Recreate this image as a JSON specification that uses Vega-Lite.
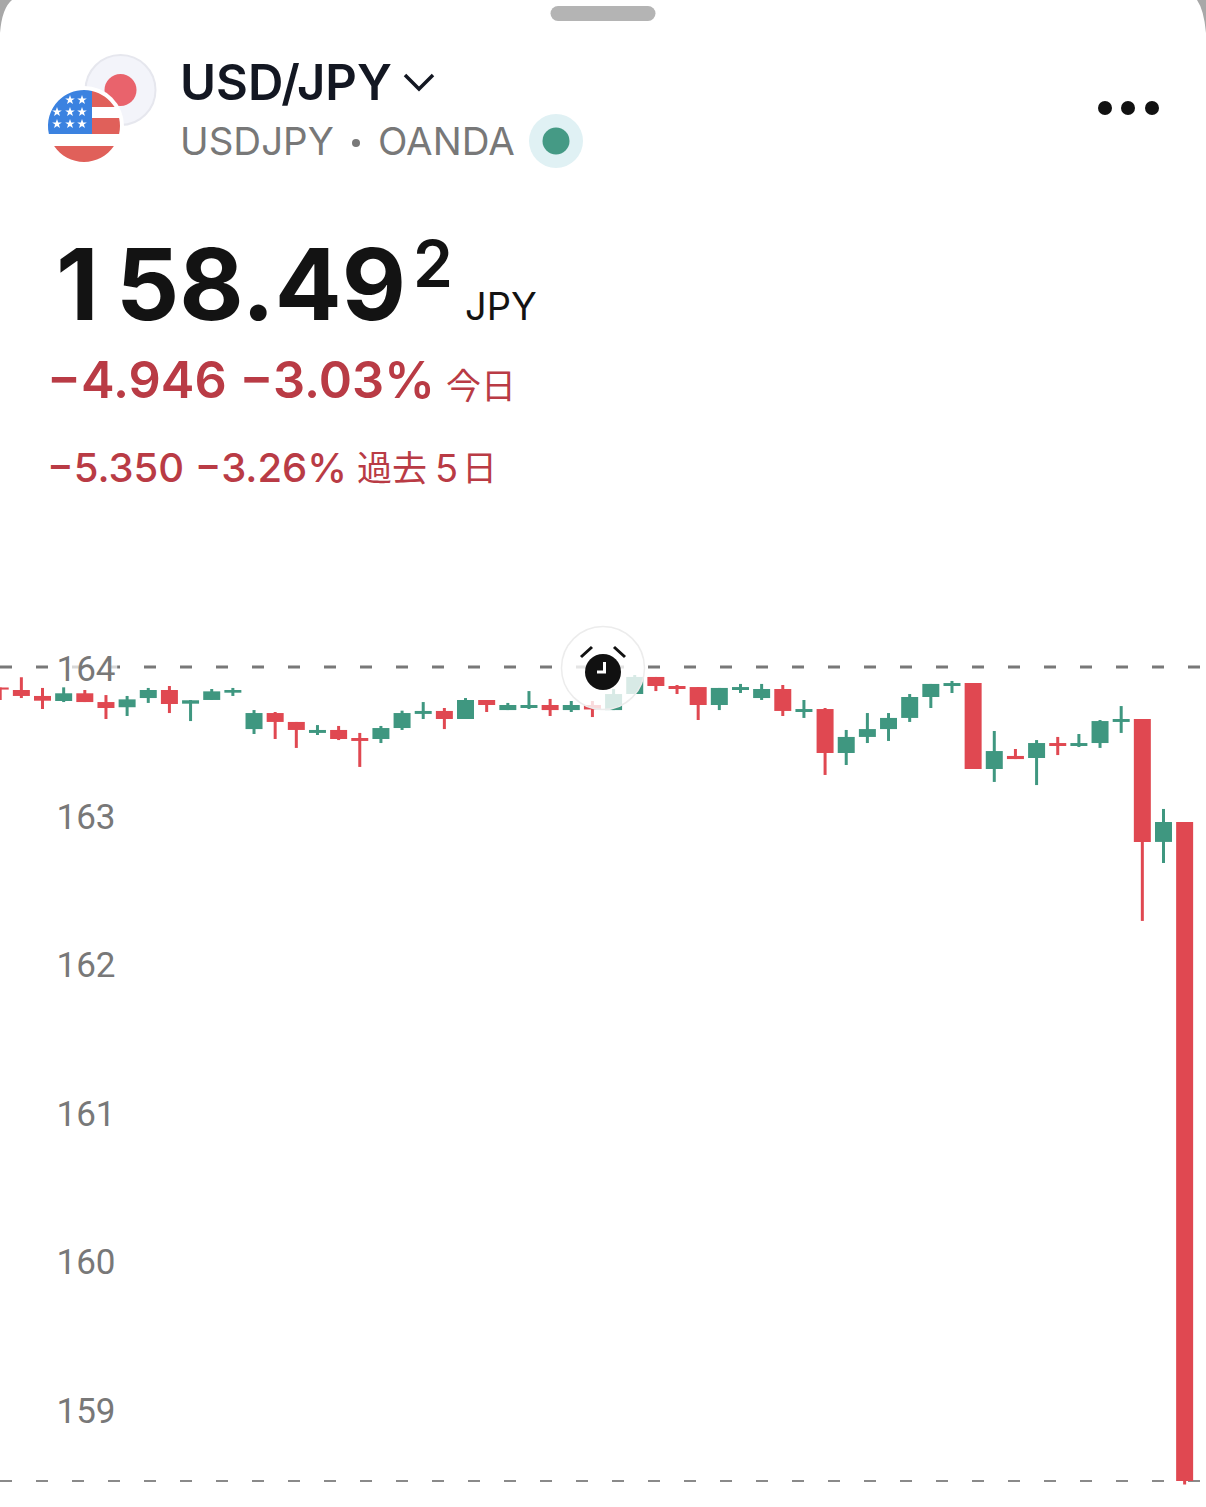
{"$schema":"https://vega.github.io/schema/vega-lite/v6.json","autosize":{"type":"fit","contains":"padding"},"width":1206,"height":1507,"padding":0,"background":"#ffffff","config":{"view":{"stroke":null},"axisY":{"orient":"left","domain":false,"ticks":false,"grid":false,"labelAlign":"left","labelPadding":-56,"labelFont":"Roboto","labelFontSize":35,"labelColor":"#787878","labelBaseline":"middle","labelOffset":2,"labelBound":false,"labelFlush":false}},
"datasets":{"candles":[
{"i":0,"open":163.862,"high":163.862,"low":163.778,"close":163.848,"dir":"down"},
{"i":1,"open":163.845,"high":163.931,"low":163.791,"close":163.805,"dir":"down"},
{"i":2,"open":163.805,"high":163.859,"low":163.717,"close":163.773,"dir":"down"},
{"i":3,"open":163.771,"high":163.863,"low":163.764,"close":163.823,"dir":"up"},
{"i":4,"open":163.823,"high":163.845,"low":163.764,"close":163.764,"dir":"down"},
{"i":5,"open":163.764,"high":163.811,"low":163.650,"close":163.724,"dir":"down"},
{"i":6,"open":163.729,"high":163.805,"low":163.670,"close":163.782,"dir":"up"},
{"i":7,"open":163.791,"high":163.859,"low":163.758,"close":163.845,"dir":"up"},
{"i":8,"open":163.845,"high":163.872,"low":163.690,"close":163.751,"dir":"down"},
{"i":9,"open":163.753,"high":163.778,"low":163.636,"close":163.776,"dir":"up"},
{"i":10,"open":163.778,"high":163.852,"low":163.778,"close":163.836,"dir":"up"},
{"i":11,"open":163.827,"high":163.859,"low":163.805,"close":163.845,"dir":"up"},
{"i":12,"open":163.582,"high":163.710,"low":163.549,"close":163.690,"dir":"up"},
{"i":13,"open":163.690,"high":163.697,"low":163.515,"close":163.630,"dir":"down"},
{"i":14,"open":163.630,"high":163.630,"low":163.455,"close":163.576,"dir":"down"},
{"i":15,"open":163.556,"high":163.609,"low":163.542,"close":163.576,"dir":"up"},
{"i":16,"open":163.576,"high":163.603,"low":163.508,"close":163.515,"dir":"down"},
{"i":17,"open":163.522,"high":163.556,"low":163.327,"close":163.502,"dir":"down"},
{"i":18,"open":163.515,"high":163.603,"low":163.488,"close":163.589,"dir":"up"},
{"i":19,"open":163.589,"high":163.706,"low":163.576,"close":163.690,"dir":"up"},
{"i":20,"open":163.684,"high":163.764,"low":163.650,"close":163.704,"dir":"up"},
{"i":21,"open":163.704,"high":163.724,"low":163.582,"close":163.650,"dir":"down"},
{"i":22,"open":163.650,"high":163.791,"low":163.650,"close":163.778,"dir":"up"},
{"i":23,"open":163.778,"high":163.778,"low":163.697,"close":163.744,"dir":"down"},
{"i":24,"open":163.710,"high":163.758,"low":163.710,"close":163.744,"dir":"up"},
{"i":25,"open":163.724,"high":163.838,"low":163.717,"close":163.744,"dir":"up"},
{"i":26,"open":163.744,"high":163.785,"low":163.670,"close":163.710,"dir":"down"},
{"i":27,"open":163.710,"high":163.771,"low":163.697,"close":163.744,"dir":"up"},
{"i":28,"open":163.744,"high":163.771,"low":163.663,"close":163.714,"dir":"down"},
{"i":29,"open":163.710,"high":163.852,"low":163.710,"close":163.818,"dir":"up"},
{"i":30,"open":163.818,"high":163.946,"low":163.818,"close":163.933,"dir":"up"},
{"i":31,"open":163.933,"high":163.933,"low":163.838,"close":163.872,"dir":"down"},
{"i":32,"open":163.872,"high":163.879,"low":163.818,"close":163.852,"dir":"down"},
{"i":33,"open":163.865,"high":163.865,"low":163.643,"close":163.744,"dir":"down"},
{"i":34,"open":163.744,"high":163.859,"low":163.710,"close":163.859,"dir":"up"},
{"i":35,"open":163.845,"high":163.886,"low":163.825,"close":163.865,"dir":"up"},
{"i":36,"open":163.791,"high":163.886,"low":163.778,"close":163.852,"dir":"up"},
{"i":37,"open":163.852,"high":163.879,"low":163.670,"close":163.704,"dir":"down"},
{"i":38,"open":163.697,"high":163.778,"low":163.657,"close":163.717,"dir":"up"},
{"i":39,"open":163.717,"high":163.724,"low":163.273,"close":163.421,"dir":"down"},
{"i":40,"open":163.421,"high":163.576,"low":163.340,"close":163.529,"dir":"up"},
{"i":41,"open":163.529,"high":163.690,"low":163.488,"close":163.582,"dir":"up"},
{"i":42,"open":163.582,"high":163.690,"low":163.502,"close":163.657,"dir":"up"},
{"i":43,"open":163.657,"high":163.818,"low":163.630,"close":163.798,"dir":"up"},
{"i":44,"open":163.798,"high":163.886,"low":163.724,"close":163.886,"dir":"up"},
{"i":45,"open":163.872,"high":163.906,"low":163.825,"close":163.892,"dir":"up"},
{"i":46,"open":163.892,"high":163.892,"low":163.313,"close":163.313,"dir":"down"},
{"i":47,"open":163.313,"high":163.569,"low":163.226,"close":163.434,"dir":"up"},
{"i":48,"open":163.401,"high":163.448,"low":163.380,"close":163.380,"dir":"down"},
{"i":49,"open":163.387,"high":163.508,"low":163.205,"close":163.488,"dir":"up"},
{"i":50,"open":163.488,"high":163.529,"low":163.407,"close":163.468,"dir":"down"},
{"i":51,"open":163.468,"high":163.549,"low":163.461,"close":163.488,"dir":"up"},
{"i":52,"open":163.488,"high":163.643,"low":163.455,"close":163.636,"dir":"up"},
{"i":53,"open":163.630,"high":163.737,"low":163.556,"close":163.650,"dir":"up"},
{"i":54,"open":163.650,"high":163.650,"low":162.290,"close":162.822,"dir":"down"},
{"i":55,"open":162.822,"high":163.044,"low":162.680,"close":162.956,"dir":"up"},
{"i":56,"open":162.956,"high":162.956,"low":158.495,"close":158.518,"dir":"down"}
]},
"resolve":{"scale":{"x":"independent","y":"independent","color":"independent"},"axis":{"x":"independent","y":"independent"}},
"layer":[
{"layer":[
{"data":{"values":[{"level":164}]},"mark":{"type":"rule","color":"#787878","strokeWidth":3,"strokeDash":[12,24],"strokeDashOffset":30,"clip":true},"encoding":{"y":{"field":"level","type":"quantitative","scale":{"domain":[158.343,168.492],"nice":false,"zero":false},"axis":{"title":null,"values":[159,160,161,162,163,164],"format":"d","zindex":1}}}},
{"data":{"values":[{"level":158.518}]},"mark":{"type":"rule","color":"#8a8a8a","strokeWidth":2,"strokeDash":[12,24],"strokeDashOffset":30,"clip":true},"encoding":{"y":{"field":"level","type":"quantitative","axis":{"title":null,"values":[159,160,161,162,163,164],"format":"d","zindex":1}}}},
{"data":{"values":[{"level":164,"slot":2.6}]},"mark":{"type":"point","filled":true,"shape":"M0,-15 L62,-15 L62,15 L0,15 Z","size":4,"fill":"#ffffff","opacity":0.7,"strokeWidth":0},"encoding":{"x":{"field":"slot","type":"quantitative","axis":null},"y":{"field":"level","type":"quantitative","axis":{"title":null,"values":[159,160,161,162,163,164],"format":"d","zindex":1}}}},
{"data":{"name":"candles"},"mark":{"type":"rule","strokeWidth":3,"clip":true},"encoding":{"x":{"field":"i","type":"quantitative","scale":{"domain":[-0.01,57.01],"nice":false,"zero":false,"padding":0},"axis":null},"y":{"field":"low","type":"quantitative","axis":{"title":null,"values":[159,160,161,162,163,164],"format":"d","zindex":1}},"y2":{"field":"high"},"color":{"field":"dir","type":"nominal","scale":{"domain":["down","up"],"range":["#E04851","#3F9780"]},"legend":null}}},
{"data":{"name":"candles"},"mark":{"type":"bar","size":17,"clip":true},"encoding":{"x":{"field":"i","type":"quantitative","axis":null},"y":{"field":"open","type":"quantitative","axis":{"title":null,"values":[159,160,161,162,163,164],"format":"d","zindex":1}},"y2":{"field":"close"},"color":{"field":"dir","type":"nominal","legend":null}}}
]},
{"layer":[
{"data":{"values":[{"part":"corner left"}]},"mark":{"type":"point","filled":true,"shape":"M0,0 L12,0 Q2,8 0,33 Z","size":4,"fill":"#a8a8a8","opacity":1,"strokeWidth":0},"encoding":{"x":{"datum":0,"scale":{"domain":[0,1206],"nice":false,"zero":false},"axis":null},"y":{"datum":0,"scale":{"domain":[0,1507],"reverse":true,"nice":false,"zero":false},"axis":null}}},
{"data":{"values":[{"part":"corner right"}]},"mark":{"type":"point","filled":true,"shape":"M0,0 L-9,0 Q-2,10 0,33 Z","size":4,"fill":"#a8a8a8","opacity":1,"strokeWidth":0},"encoding":{"x":{"datum":1206,"axis":null},"y":{"datum":0,"axis":null}}},
{"data":{"values":[{"part":"handle"}]},"mark":{"type":"rule","color":"#b4b4b4","strokeWidth":15,"strokeCap":"round"},"encoding":{"x":{"datum":558,"axis":null},"x2":{"datum":648},"y":{"datum":13.5,"axis":null}}},
{"data":{"values":[{"part":"jp disc"}]},"mark":{"type":"point","filled":true,"shape":"circle","size":4900,"fill":"#f3f4fa","stroke":"#e6e7ee","strokeWidth":2,"opacity":1},"encoding":{"x":{"datum":120.5,"axis":null},"y":{"datum":90,"axis":null}}},
{"data":{"values":[{"part":"jp sun"}]},"mark":{"type":"point","filled":true,"shape":"circle","size":1024,"fill":"#e9636c","strokeWidth":0,"opacity":1},"encoding":{"x":{"datum":120.5,"axis":null},"y":{"datum":90,"axis":null}}},
{"data":{"values":[{"part":"us halo"}]},"mark":{"type":"point","filled":true,"shape":"circle","size":6400,"fill":"#ffffff","strokeWidth":0,"opacity":1},"encoding":{"x":{"datum":84,"axis":null},"y":{"datum":126,"axis":null}}},
{"data":{"values":[{"part":"us stripes"}]},"mark":{"type":"point","filled":true,"shape":"M8,-35.1 A36,36 0 0 1 30.6,-19 L8,-19 Z M8,-8 L35.1,-8 A36,36 0 0 1 35.1,8 L8,8 Z M-29.9,20 L29.9,20 A36,36 0 0 1 -29.9,20 Z","size":4,"fill":"#e0605a","strokeWidth":0,"opacity":1},"encoding":{"x":{"datum":84,"axis":null},"y":{"datum":126,"axis":null}}},
{"data":{"values":[{"part":"us canton"}]},"mark":{"type":"point","filled":true,"shape":"M8,8 L-35.1,8 A36,36 0 0 1 8,-35.1 Z","size":4,"fill":"#3b82e0","strokeWidth":0,"opacity":1},"encoding":{"x":{"datum":84,"axis":null},"y":{"datum":126,"axis":null}}},
{"data":{"values":[{"star":"a","sx":70,"sy":100},{"star":"b","sx":82,"sy":100},{"star":"c","sx":57,"sy":112},{"star":"d","sx":70,"sy":112},{"star":"e","sx":82,"sy":112},{"star":"f","sx":57,"sy":124},{"star":"g","sx":70,"sy":124},{"star":"h","sx":82,"sy":124}]},"mark":{"type":"point","filled":true,"shape":"M0,-5 L1.2,-1.6 L4.8,-1.6 L1.9,0.6 L3,4 L0,2 L-3,4 L-1.9,0.6 L-4.8,-1.6 L-1.2,-1.6 Z","size":4,"fill":"#ffffff","strokeWidth":0,"opacity":1},"encoding":{"x":{"field":"sx","type":"quantitative","axis":null},"y":{"field":"sy","type":"quantitative","axis":null}}},
{"data":{"values":[{"label":"USD/JPY"}]},"mark":{"type":"text","align":"left","baseline":"alphabetic","font":"Inter","fontSize":49,"fontWeight":600,"fill":"#131722"},"encoding":{"x":{"datum":180,"axis":null},"y":{"datum":100,"axis":null},"text":{"field":"label"}}},
{"data":{"values":[{"part":"chevron"}]},"mark":{"type":"point","filled":false,"shape":"M-14,-7 L0,7 L14,-7","size":4,"stroke":"#131722","strokeWidth":3.5,"fill":null,"opacity":1},"encoding":{"x":{"datum":419,"axis":null},"y":{"datum":82,"axis":null}}},
{"data":{"values":[{"label":"USDJPY"}]},"mark":{"type":"text","align":"left","baseline":"alphabetic","font":"Inter","fontSize":38.5,"fontWeight":400,"fill":"#787878"},"encoding":{"x":{"datum":180,"axis":null},"y":{"datum":155,"axis":null},"text":{"field":"label"}}},
{"data":{"values":[{"part":"separator"}]},"mark":{"type":"point","filled":true,"shape":"circle","size":64,"fill":"#787878","strokeWidth":0,"opacity":1},"encoding":{"x":{"datum":356,"axis":null},"y":{"datum":143,"axis":null}}},
{"data":{"values":[{"label":"OANDA"}]},"mark":{"type":"text","align":"left","baseline":"alphabetic","font":"Inter","fontSize":38.5,"fontWeight":400,"fill":"#787878"},"encoding":{"x":{"datum":378,"axis":null},"y":{"datum":155,"axis":null},"text":{"field":"label"}}},
{"data":{"values":[{"part":"status halo"}]},"mark":{"type":"point","filled":true,"shape":"circle","size":2916,"fill":"#e0f1f4","strokeWidth":0,"opacity":1},"encoding":{"x":{"datum":556,"axis":null},"y":{"datum":141,"axis":null}}},
{"data":{"values":[{"part":"status dot"}]},"mark":{"type":"point","filled":true,"shape":"circle","size":729,"fill":"#459a85","strokeWidth":0,"opacity":1},"encoding":{"x":{"datum":556,"axis":null},"y":{"datum":141,"axis":null}}},
{"data":{"values":[{"dot":1105},{"dot":1128},{"dot":1152}]},"mark":{"type":"point","filled":true,"shape":"circle","size":196,"fill":"#111111","strokeWidth":0,"opacity":1},"encoding":{"x":{"field":"dot","type":"quantitative","axis":null},"y":{"datum":108,"axis":null}}},
{"data":{"values":[{"label":"1"}]},"mark":{"type":"text","align":"left","baseline":"alphabetic","font":"Inter","fontSize":99,"fontWeight":700,"fill":"#131313"},"encoding":{"x":{"datum":56,"axis":null},"y":{"datum":320,"axis":null},"text":{"field":"label"}}},
{"data":{"values":[{"label":"58.49"}]},"mark":{"type":"text","align":"left","baseline":"alphabetic","font":"Inter","fontSize":99,"fontWeight":700,"fill":"#131313"},"encoding":{"x":{"datum":116,"axis":null},"y":{"datum":320,"axis":null},"text":{"field":"label"}}},
{"data":{"values":[{"label":"2"}]},"mark":{"type":"text","align":"left","baseline":"alphabetic","font":"Inter","fontSize":64,"fontWeight":600,"fill":"#131313"},"encoding":{"x":{"datum":413,"axis":null},"y":{"datum":287,"axis":null},"text":{"field":"label"}}},
{"data":{"values":[{"label":"JPY"}]},"mark":{"type":"text","align":"left","baseline":"alphabetic","font":"Inter","fontSize":38,"fontWeight":400,"fill":"#131313"},"encoding":{"x":{"datum":465,"axis":null},"y":{"datum":320,"axis":null},"text":{"field":"label"}}},
{"data":{"values":[{"label":"−4.946 −3.03%"}]},"mark":{"type":"text","align":"left","baseline":"alphabetic","font":"Inter","fontSize":50.5,"fontWeight":600,"fill":"#b93b45"},"encoding":{"x":{"datum":47,"axis":null},"y":{"datum":398,"axis":null},"text":{"field":"label"}}},
{"data":{"values":[{"label":"今日"}]},"mark":{"type":"text","align":"left","baseline":"alphabetic","font":"Noto Sans CJK JP","fontSize":35,"fontWeight":400,"fill":"#b93b45"},"encoding":{"x":{"datum":446,"axis":null},"y":{"datum":399,"axis":null},"text":{"field":"label"}}},
{"data":{"values":[{"label":"−5.350 −3.26%"}]},"mark":{"type":"text","align":"left","baseline":"alphabetic","font":"Inter","fontSize":40,"fontWeight":500,"fill":"#b93b45"},"encoding":{"x":{"datum":47,"axis":null},"y":{"datum":482,"axis":null},"text":{"field":"label"}}},
{"data":{"values":[{"label":"過去"}]},"mark":{"type":"text","align":"left","baseline":"alphabetic","font":"Noto Sans CJK JP","fontSize":35,"fontWeight":400,"fill":"#b93b45"},"encoding":{"x":{"datum":357,"axis":null},"y":{"datum":481,"axis":null},"text":{"field":"label"}}},
{"data":{"values":[{"label":"5"}]},"mark":{"type":"text","align":"left","baseline":"alphabetic","font":"Inter","fontSize":38,"fontWeight":400,"fill":"#b93b45"},"encoding":{"x":{"datum":435,"axis":null},"y":{"datum":482,"axis":null},"text":{"field":"label"}}},
{"data":{"values":[{"label":"日"}]},"mark":{"type":"text","align":"left","baseline":"alphabetic","font":"Noto Sans CJK JP","fontSize":35,"fontWeight":400,"fill":"#b93b45"},"encoding":{"x":{"datum":462,"axis":null},"y":{"datum":481,"axis":null},"text":{"field":"label"}}},
{"data":{"values":[{"part":"alarm veil"}]},"mark":{"type":"point","filled":true,"shape":"circle","size":6889,"fill":"#ffffff","fillOpacity":0.8,"stroke":"#ececec","strokeWidth":1.5,"opacity":1},"encoding":{"x":{"datum":603,"axis":null},"y":{"datum":668,"axis":null}}},
{"data":{"values":[{"part":"alarm face"}]},"mark":{"type":"point","filled":true,"shape":"circle","size":1296,"fill":"#111111","strokeWidth":0,"opacity":1},"encoding":{"x":{"datum":603,"axis":null},"y":{"datum":672,"axis":null}}},
{"data":{"values":[{"part":"alarm bells"}]},"mark":{"type":"point","filled":false,"shape":"M-22,-15 L-11,-25 M11,-25 L22,-15","size":4,"stroke":"#111111","strokeWidth":3,"fill":null,"opacity":1},"encoding":{"x":{"datum":603,"axis":null},"y":{"datum":672,"axis":null}}},
{"data":{"values":[{"part":"alarm hands"}]},"mark":{"type":"point","filled":false,"shape":"M1.5,-10 L1.5,0 L-6,0","size":4,"stroke":"#ffffff","strokeWidth":3,"fill":null,"opacity":1},"encoding":{"x":{"datum":603,"axis":null},"y":{"datum":672,"axis":null}}}
]}
]}
